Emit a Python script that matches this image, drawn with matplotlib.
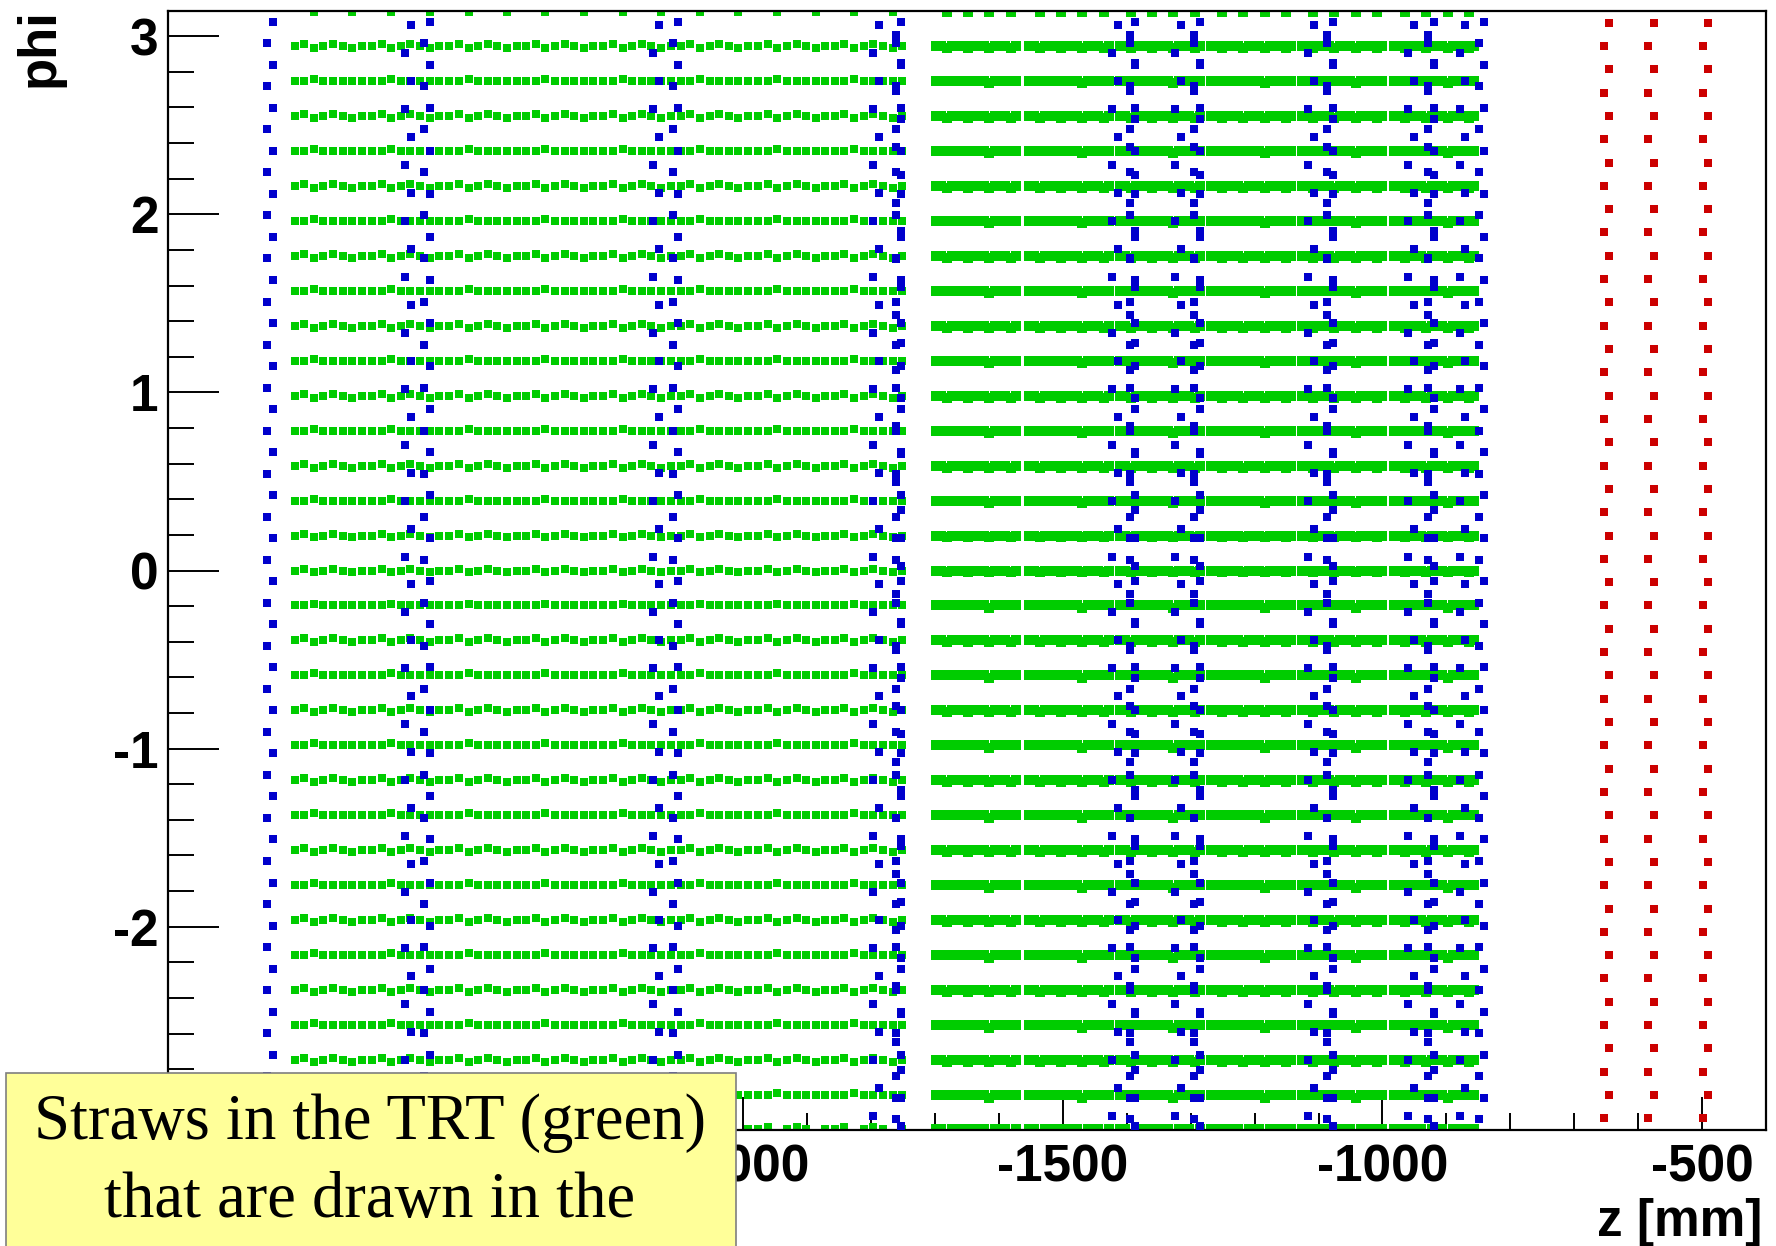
import numpy as np
import matplotlib
matplotlib.use("Agg")
import matplotlib.pyplot as plt
from matplotlib.patches import Rectangle
from matplotlib.ticker import MultipleLocator

# z in mm, phi in rad

# pixel end-cap disks (red), modules alternate +-stagger in z
pix_disk_z = [-650.0, -580.0, -495.0]
pix_stagger = 4.0
pix_modules = 48

# SCT end-cap module columns (blue), two per disk (disk 9 only one)
sct_col_z = [-2740, -2525, -2495, -2136, -2106, -1792, -1757, -1419, -1391,
             -1320, -1290, -1111.5, -1082, -955, -924.5, -875, -845]
sct_col_modules = [52, 40, 52, 40, 52, 40, 52, 40, 52, 40, 52, 40, 52, 40, 52, 40, 52]
sct_col_inner = [0, 0, 0, 0, 0, 0, 40, 0, 40, 0, 40, 0, 40, 0, 40, 0, 0]
sct_stagger = 4.5

# TRT end-cap straws (green): one straw per phi sector, phi = sector*pi/16
trt_sectors = list(range(-16, 16))
trt_wavy = [1, 0, 1, 0, 1, 0, 1, 0, 1, 0, 1, 0, 1, 0, 1, 0,
            1, 1, 0, 1, 0, 1, 0, 1, 0, 1, 0, 1, 0, 1, 0, 1]
# type A wheels: first plane of each wheel pair, 16 planes each
trt_a_first = [-1698.6, -1553.0, -1410.5, -1268.0, -1125.6, -981.6]
trt_a_planes = 16
trt_a_pitch = 8.35
# type B wheels: first plane of each wheel, 8 planes each
trt_b_first = [-2702, -2581, -2460, -2340, -2219, -2098, -1977, -1857]
trt_b_planes = 8
trt_b_pitch = 15.08
# phi shift of the drawn straw plane by plane
trt_a_shift_wavy = [0.0, 0.0, -0.011, 0.0]
trt_a_shift_flat = [0, 0, 0, 0, 0, 0, 0, 0, 0, 0, -0.014, 0, 0, 0, 0, 0]
trt_b_shift_wavy = [0.0, 0.011, -0.011, 0.0, 0.011, 0.0, -0.011, 0.0]
trt_b_shift_flat = [0.0, 0.0, 0.011, 0.0, 0.0, 0.0, 0.0, 0.0]

x_range = (-2900, -400)


def wrap(phi):
    phi = np.asarray(phi)
    return np.where(phi < -np.pi, phi + 2 * np.pi, phi)


# ---- build the point lists ----
a_z, a_phi, b_z, b_phi = [], [], [], []
for s, wavy in zip(trt_sectors, trt_wavy):
    phi0 = s * np.pi / 16
    if s == -16:
        phi0 += 0.008
    sh_a = np.resize(trt_a_shift_wavy if wavy else trt_a_shift_flat, trt_a_planes)
    sh_b = np.resize(trt_b_shift_wavy if wavy else trt_b_shift_flat, trt_b_planes)
    for z0 in trt_a_first:
        a_z.extend(z0 + trt_a_pitch * np.arange(trt_a_planes))
        a_phi.extend(phi0 + sh_a)
    for z0 in trt_b_first:
        b_z.extend(z0 + trt_b_pitch * np.arange(trt_b_planes))
        b_phi.extend(phi0 + sh_b)
a_phi = wrap(a_phi)
b_phi = wrap(b_phi)

blue_z, blue_phi = [], []
for z0, n, ninner in zip(sct_col_z, sct_col_modules, sct_col_inner):
    k = np.arange(n)
    blue_z.extend(z0 + sct_stagger * np.where(k % 2, 1, -1))
    blue_phi.extend(-np.pi + (k + 0.5) * 2 * np.pi / n)
    if ninner:
        k = np.arange(ninner)
        blue_z.extend(z0 + sct_stagger * np.where(k % 2, -1, 1))
        blue_phi.extend(-np.pi + (k + 0.15) * 2 * np.pi / ninner)

red_z, red_phi = [], []
for z0 in pix_disk_z:
    k = np.arange(pix_modules)
    red_z.extend(z0 + pix_stagger * np.where(k % 2, 1, -1))
    red_phi.extend(-np.pi + (k + 0.5) * 2 * np.pi / pix_modules)

# ---- figure ----
plt.rcParams['axes.unicode_minus'] = False
sans = 'Liberation Sans'
fig = plt.figure(figsize=(17.76, 12.46), dpi=100)
ax = fig.add_axes([168 / 1776, 1 - 1130 / 1246, 1598 / 1776, 1119 / 1246])

ax.plot(a_z, a_phi, 's', color='#00CC00', ms=6.5, mew=0, zorder=2)
ax.plot(b_z, b_phi, 's', color='#00CC00', ms=5.9, mew=0, zorder=2)
ax.plot(blue_z, blue_phi, 's', color='#0000CC', ms=5.8, mew=0, zorder=3)
ax.plot(red_z, red_phi, 's', color='#CC0000', ms=5.5, mew=0, zorder=4)

ax.set_xlim(*x_range)
ax.set_ylim(-np.pi, np.pi)

ax.xaxis.set_major_locator(MultipleLocator(500))
ax.xaxis.set_minor_locator(MultipleLocator(100))
ax.yaxis.set_major_locator(MultipleLocator(1))
ax.yaxis.set_minor_locator(MultipleLocator(0.2))
ax.tick_params(which='both', direction='in', top=False, right=False,
               width=1.4, color='black')
ax.xaxis.set_tick_params(which='major', length=24, pad=10)
ax.xaxis.set_tick_params(which='minor', length=12)
ax.yaxis.set_tick_params(which='major', length=37, pad=7)
ax.yaxis.set_tick_params(which='minor', length=19)
for lab in ax.get_xticklabels() + ax.get_yticklabels():
    lab.set_fontfamily(sans)
    lab.set_fontweight('bold')
    lab.set_fontsize(37)
for sp in ax.spines.values():
    sp.set_linewidth(1.6)

fig.text(40 / 1776, 1 - 8 / 1246, 'phi', rotation=90, ha='center', va='top',
         fontsize=38, fontweight='bold', family=sans)
fig.text(1762 / 1776, 1 - 1236 / 1246, 'z [mm]', ha='right', va='baseline',
         fontsize=37, fontweight='bold', family=sans)

# yellow note box
box = Rectangle((6 / 1776, -0.05), 730 / 1776, 0.05 + (1246 - 1073) / 1246,
                transform=fig.transFigure, facecolor='#FFFF99',
                edgecolor='#7f7f7f', linewidth=1.2, zorder=10)
fig.add_artist(box)
fig.text(370 / 1776, 1 - 1139 / 1246, 'Straws in the TRT (green)', ha='center',
         va='baseline', fontsize=46.5, family='Liberation Serif', zorder=11)
fig.text(370 / 1776, 1 - 1217 / 1246, 'that are drawn in the', ha='center',
         va='baseline', fontsize=46.5, family='Liberation Serif', zorder=11)

fig.savefig('out.png', dpi=100)
